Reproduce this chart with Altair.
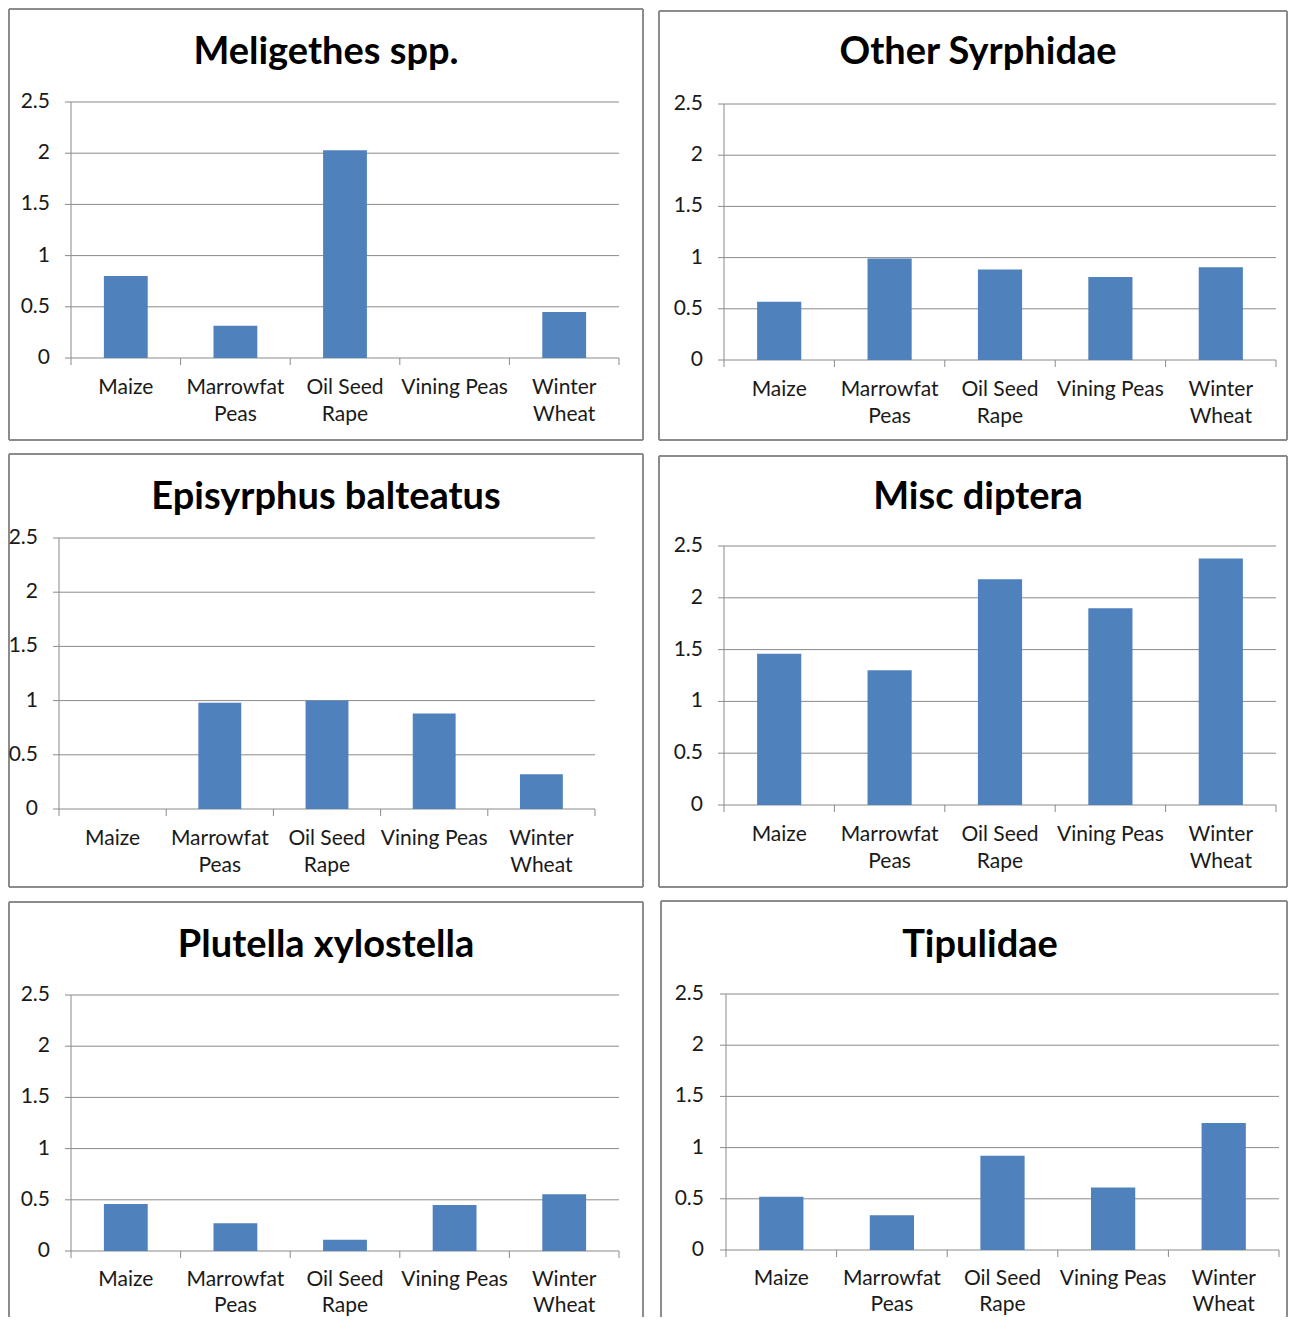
import altair as alt
import pandas as pd

# ---------------- data ----------------
crops = ["Maize", "Marrowfat Peas", "Oil Seed Rape", "Vining Peas", "Winter Wheat"]
crop_labels = ["Maize", "Marrowfat\nPeas", "Oil Seed\nRape", "Vining Peas", "Winter\nWheat"]

titles = ["Meligethes spp.", "Other Syrphidae", "Episyrphus balteatus",
          "Misc diptera", "Plutella xylostella", "Tipulidae"]

meligethes = [0.80, 0.315, 2.03, 0.0, 0.45]
other_syrphidae = [0.57, 0.99, 0.885, 0.81, 0.905]
episyrphus = [0.0, 0.98, 1.0, 0.88, 0.32]
misc_diptera = [1.46, 1.30, 2.18, 1.90, 2.38]
plutella = [0.46, 0.27, 0.11, 0.45, 0.555]
tipulidae = [0.52, 0.34, 0.92, 0.61, 1.24]

tick_values = [0, 0.5, 1, 1.5, 2, 2.5]
tick_labels = ["0", "0.5", "1", "1.5", "2", "2.5"]

# ---------------- style / layout ----------------
FONT = "Lato"
BAR = "#4F81BD"
GRID = "#8a8a8a"
FRAME = "#8c8c8c"
TEXT = "#1a1a1a"

layouts = [
    dict(w=636, h=433, L=63, R=611, T=94, B=350, yl=42, tx=318, box=(1, 1, 635, 432), bottom=True, lo=36, lh=27),
    dict(w=630, h=433, L=66, R=618, T=96, B=352, yl=45, tx=320, box=(1, 3, 629, 432), bottom=True, lo=36, lh=27),
    dict(w=636, h=435, L=51, R=587, T=85, B=356, yl=30, tx=318, box=(1, 1, 635, 434), bottom=True, lo=36, lh=27),
    dict(w=630, h=435, L=66, R=618, T=93, B=352, yl=45, tx=320, box=(1, 3, 629, 434), bottom=True, lo=36, lh=27),
    dict(w=636, h=416, L=63, R=611, T=94, B=350, yl=42, tx=318, box=(1, 1, 635, 416), bottom=False, lo=35, lh=26),
    dict(w=630, h=416, L=68, R=621, T=93, B=349, yl=46, tx=322, box=(3, 0, 629, 416), bottom=False, lo=35, lh=26),
]


def panel(title, values, lay):
    L, R, T, B = lay["L"], lay["R"], lay["T"], lay["B"]
    data = pd.DataFrame({"crop": crops, "label": crop_labels, "value": values})
    ticks = pd.DataFrame({"v": tick_values, "t": tick_labels})
    one = pd.DataFrame({"title": [title]})

    xs = alt.Scale(domain=crops, range=[L, R], paddingInner=0, paddingOuter=0)
    ys = alt.Scale(domain=[0, 2.5], range=[B, T], nice=False, zero=True)

    def X(**kw):
        return alt.X("crop:N", scale=xs, axis=None, sort=crops, **kw)

    layers = []
    # frame
    x0, y0, x1, y1 = lay["box"]
    edges = [(x0, y0, x1, y0), (x0, y0, x0, y1), (x1, y0, x1, y1)]
    if lay["bottom"]:
        edges.append((x0, y1, x1, y1))
    for a, b, c, d in edges:
        layers.append(
            alt.Chart(one).mark_rule(color=FRAME, strokeWidth=2).encode(
                x=alt.value(a), y=alt.value(b), x2=alt.value(c), y2=alt.value(d))
        )
    # gridlines (with small ticks left of the axis)
    layers.append(
        alt.Chart(ticks).mark_rule(color=GRID, strokeWidth=1).encode(
            y=alt.Y("v:Q", scale=ys, axis=None), x=alt.value(L - 6), x2=alt.value(R))
    )
    # y axis line
    layers.append(
        alt.Chart(ticks).transform_aggregate(lo="min(v)", hi="max(v)")
        .mark_rule(color=GRID, strokeWidth=1)
        .encode(x=alt.value(L), y=alt.Y("lo:Q", scale=ys, axis=None), y2="hi:Q")
    )
    # y labels
    layers.append(
        alt.Chart(ticks).mark_text(align="right", baseline="middle", font=FONT,
                                   fontSize=21, color=TEXT).encode(
            y=alt.Y("v:Q", scale=ys, axis=None), x=alt.value(lay["yl"]), text="t:N")
    )
    # x ticks at category boundaries
    layers.append(
        alt.Chart(data).mark_rule(color=GRID, strokeWidth=1).encode(
            x=X(bandPosition=0), y=alt.value(B), y2=alt.value(B + 7))
    )
    layers.append(
        alt.Chart(data).transform_filter(alt.datum.crop == crops[-1])
        .mark_rule(color=GRID, strokeWidth=1).encode(
            x=X(bandPosition=1), y=alt.value(B), y2=alt.value(B + 7))
    )
    # bars
    layers.append(
        alt.Chart(data).mark_bar(color=BAR, width=alt.RelativeBandSize(0.4)).encode(
            x=X(), y=alt.Y("value:Q", scale=ys, axis=None))
    )
    # x labels
    layers.append(
        alt.Chart(data).mark_text(baseline="alphabetic", align="center", lineBreak="\n",
                                  lineHeight=lay["lh"], font=FONT, fontSize=21, color=TEXT)
        .encode(x=X(), y=alt.value(B + lay["lo"]), text="label:N")
    )
    # title
    layers.append(
        alt.Chart(one).mark_text(font=FONT, fontSize=38, fontWeight="bold",
                                 baseline="alphabetic", align="center", color="black")
        .encode(x=alt.value(lay["tx"]), y=alt.value(56), text="title:N")
    )
    return alt.layer(*layers).properties(width=lay["w"], height=lay["h"])


series = [meligethes, other_syrphidae, episyrphus, misc_diptera, plutella, tipulidae]
panels = [panel(t, s, l) for t, s, l in zip(titles, series, layouts)]

chart = alt.vconcat(
    alt.hconcat(panels[0], panels[1], spacing=14),
    alt.hconcat(panels[2], panels[3], spacing=14),
    alt.hconcat(panels[4], panels[5], spacing=14),
    spacing=12,
).properties(padding=0, background="white").configure_view(strokeWidth=0)

chart.save("out.html", embed_options={"renderer": "svg", "actions": False})
